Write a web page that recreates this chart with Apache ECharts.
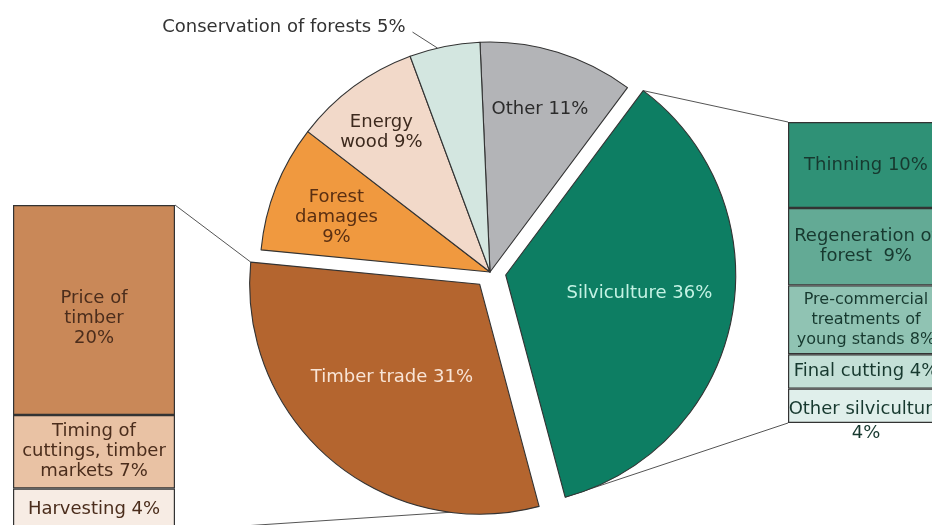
<!DOCTYPE html>
<html>
<head>
<meta charset="UTF-8">
<title>Forest topics</title>
<style>
  html, body { margin: 0; padding: 0; background: #fff; }
  #main { width: 932px; height: 525px; }
</style>
</head>
<body>
<div id="main"></div>
<script src="https://cdn.jsdelivr.net/npm/echarts@6/dist/echarts.min.js"></script>
<script>
// pie: main topics (clockwise from top)
var pieNames = ['Other', 'Silviculture', 'Timber trade', 'Forest damages', 'Energy wood', 'Conservation of forests'];
var pieValues = [11, 36, 31, 9, 9, 5];
var pieTexts = ['Other 11%', 'Silviculture 36%', 'Timber trade 31%', 'Forest\ndamages\n9%', 'Energy\nwood 9%', 'Conservation of forests 5%'];

// left column: timber trade breakdown (top to bottom)
var timberNames = ['Price of timber', 'Timing of cuttings, timber markets', 'Harvesting'];
var timberValues = [20, 7, 4];
var timberTexts = ['Price of\ntimber\n20%', 'Timing of\ncuttings, timber\nmarkets 7%', 'Harvesting 4%'];

// right column: silviculture breakdown (top to bottom)
var silvNames = ['Thinning', 'Regeneration of forest', 'Pre-commercial treatments of young stands', 'Final cutting', 'Other silviculture'];
var silvValues = [10, 9, 8, 4, 4];
var silvTexts = ['Thinning 10%', 'Regeneration of\nforest  9%', 'Pre-commercial\ntreatments of\nyoung stands 8%', 'Final cutting 4%', 'Other silviculture\n4%'];

// styling
var FONT = 'DejaVu Sans';
var pieColors = ['#b3b4b7', '#0d7e63', '#b4652f', '#f0993f', '#f2d9c9', '#d3e6e0'];
var pieTextColors = ['#2b2b2b', '#c4f2e4', '#f8e4d6', '#5a2f12', '#3d2a1e', '#333'];
var pieExploded = [false, true, true, false, false, false];
var labelDist = [170, 135, 128, 163, 177, 0];
var labelTurn = [0, -3, 3, -2, -1.5, 0];
var timberColors = ['#c98858', '#e9c2a4', '#f7ece4'];
var silvColors = ['#2f9176', '#63aa95', '#90c3b3', '#c4e0d7', '#e0efeb'];

var CENTER = [490, 272], R = 230, EXPLODE = 16, START = -2.5;
var LEFT_BOX = { left: 13, top: 205, width: 162, unit: 10.5 };
var RIGHT_BOX = { left: 788, top: 122, width: 156, unit: 8.6 };

function sum(a) { return a.reduce(function (s, v) { return s + v; }, 0); }
function dir(deg) { var a = deg * Math.PI / 180; return [Math.sin(a), -Math.cos(a)]; }

// slice angles (degrees clockwise from 12 o'clock)
var pieTotal = sum(pieValues), acc = START;
var spans = pieValues.map(function (v) { var s = acc; acc += v / pieTotal * 360; return [s, acc]; });
function sliceCenter(i) {
    var c = CENTER.slice();
    if (pieExploded[i]) {
        var d = dir((spans[i][0] + spans[i][1]) / 2);
        c = [c[0] + d[0] * EXPLODE, c[1] + d[1] * EXPLODE];
    }
    return c;
}
function slicePoint(i, deg, r) {
    var c = sliceCenter(i), d = dir(deg);
    return [c[0] + d[0] * r, c[1] + d[1] * r];
}

function placeLabel(p) {
    var i = p.dataIndex;
    var s = spans[i], mid = (s[0] + s[1]) / 2;
    if (i === 5) {
        var e = slicePoint(i, s[0] + (s[1] - s[0]) * 0.4, R);
        var k = [e[0] - 25, e[1] - 16];
        return { x: k[0] - 7, y: k[1] - 5, align: 'right', verticalAlign: 'middle', labelLinePoints: [e, k, k] };
    }
    var pt = slicePoint(i, mid + labelTurn[i], labelDist[i]);
    return { x: pt[0], y: pt[1], align: 'center', verticalAlign: 'middle' };
}

// one pie layer; exploded slices get their own layer with a shifted centre
function pieLayer(center, shows) {
    return {
        type: 'pie',
        center: center,
        radius: [0, R],
        startAngle: 90 - START,
        clockwise: true,
        avoidLabelOverlap: false,
        silent: true,
        emphasis: { disabled: true },
        label: {
            position: 'inside',
            fontFamily: FONT,
            fontSize: 18,
            lineHeight: 20,
            formatter: function (p) { return pieTexts[p.dataIndex]; }
        },
        labelLine: { show: false },
        labelLayout: placeLabel,
        data: pieValues.map(function (v, i) {
            var on = shows(i);
            var item = {
                name: pieNames[i],
                value: v,
                itemStyle: on ? { color: pieColors[i], borderColor: '#333', borderWidth: 1.1 }
                              : { color: 'rgba(0,0,0,0)', borderWidth: 0 },
                label: { show: on, color: pieTextColors[i] }
            };
            if (on && i === 5) {
                item.label.position = 'outside';
                item.labelLine = { show: true, lineStyle: { color: '#555', width: 1 } };
            }
            return item;
        })
    };
}

var chart = echarts.init(document.getElementById('main'));

var timberSum = sum(timberValues), silvSum = sum(silvValues);

function barSeries(names, values, texts, colors, axis, stack, extra) {
    return values.map(function (v, i) {
        var lbl = {
            show: true,
            position: 'inside',
            formatter: texts[i],
            fontFamily: FONT,
            fontSize: 18,
            lineHeight: 20,
            color: axis === 0 ? '#4b2d1c' : '#17392f'
        };
        if (extra && extra[i]) Object.assign(lbl, extra[i]);
        return {
            name: names[i],
            type: 'bar',
            xAxisIndex: axis,
            yAxisIndex: axis,
            stack: stack,
            barWidth: '100%',
            silent: true,
            data: [v],
            itemStyle: { color: colors[i], borderColor: '#333', borderWidth: 1.2 },
            label: lbl
        };
    });
}

var series = [pieLayer(CENTER, function (i) { return !pieExploded[i]; })];
pieExploded.forEach(function (ex, j) {
    if (ex) series.push(pieLayer(sliceCenter(j), function (i) { return i === j; }));
});
series = series.concat(
    barSeries(timberNames, timberValues, timberTexts, timberColors, 0, 'timber', [{ offset: [0, 8] }, null, null]),
    barSeries(silvNames, silvValues, silvTexts, silvColors, 1, 'silv', [null, null, { fontSize: 16 }, null, { lineHeight: 24, offset: [0, 16] }])
);

// connector lines between exploded slices and the breakdown columns
var tb = spans[2], sv = spans[1];
var lBottom = LEFT_BOX.top + timberSum * LEFT_BOX.unit;
var rBottom = RIGHT_BOX.top + silvSum * RIGHT_BOX.unit;
var lRight = LEFT_BOX.left + LEFT_BOX.width;
var connectors = [
    [slicePoint(2, tb[1], R), [lRight, LEFT_BOX.top]],
    [slicePoint(2, tb[0], R), [lRight, lBottom]],
    [slicePoint(1, sv[0], R), [RIGHT_BOX.left, RIGHT_BOX.top]],
    [slicePoint(1, sv[1], R), [RIGHT_BOX.left, rBottom]]
];

var option = {
    animation: false,
    backgroundColor: '#fff',
    grid: [
        { left: LEFT_BOX.left, top: LEFT_BOX.top, width: LEFT_BOX.width, height: timberSum * LEFT_BOX.unit, outerBoundsMode: 'none' },
        { left: RIGHT_BOX.left, top: RIGHT_BOX.top, width: RIGHT_BOX.width, height: silvSum * RIGHT_BOX.unit, outerBoundsMode: 'none' }
    ],
    xAxis: [
        { gridIndex: 0, type: 'category', data: ['Timber trade'], show: false },
        { gridIndex: 1, type: 'category', data: ['Silviculture'], show: false }
    ],
    yAxis: [
        { gridIndex: 0, type: 'value', min: 0, max: timberSum, inverse: true, show: false },
        { gridIndex: 1, type: 'value', min: 0, max: silvSum, inverse: true, show: false }
    ],
    graphic: connectors.map(function (c) {
        return {
            type: 'line',
            z: -1,
            silent: true,
            shape: { x1: c[0][0], y1: c[0][1], x2: c[1][0], y2: c[1][1] },
            style: { stroke: '#555', lineWidth: 1 }
        };
    }),
    series: series
};

chart.setOption(option);
</script>
</body>
</html>
